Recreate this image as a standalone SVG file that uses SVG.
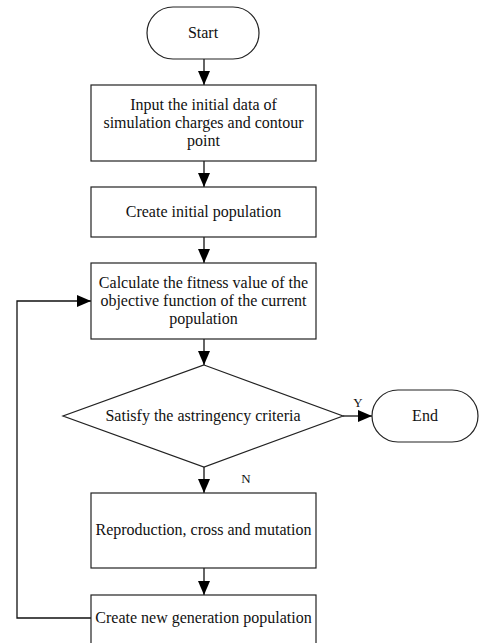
<svg xmlns="http://www.w3.org/2000/svg" width="479" height="643" viewBox="0 0 479 643">
<defs>
<marker id="ah" markerWidth="14" markerHeight="12" refX="14" refY="6" orient="auto" markerUnits="userSpaceOnUse" viewBox="0 0 14 12">
<path d="M0,0 L14,6 L0,12 Z" fill="#000"/>
</marker>
<style>
.n{fill:#fff;stroke:#222;stroke-width:1.2}
.t{font-family:"Liberation Serif","Times New Roman",serif;font-size:16px;fill:#111;text-anchor:middle}
.s{font-family:"Liberation Serif","Times New Roman",serif;font-size:13px;fill:#111;text-anchor:middle}
.c{fill:none;stroke:#111;stroke-width:1.3;marker-end:url(#ah)}
</style>
</defs>
<rect width="479" height="643" fill="#fff"/>
<g id="connectors">
<line class="c" x1="204" y1="59" x2="204" y2="85"/>
<line class="c" x1="204" y1="161" x2="204" y2="187"/>
<line class="c" x1="204" y1="237" x2="204" y2="263"/>
<line class="c" x1="204" y1="339" x2="204" y2="365"/>
<line class="c" x1="343" y1="416" x2="372" y2="416"/>
<line class="c" x1="204" y1="467" x2="204" y2="493"/>
<line class="c" x1="204" y1="568" x2="204" y2="595"/>
<polyline class="c" points="91,618 17,618 17,301 91,301"/>
<text class="s" x="358" y="407">Y</text>
<text class="s" x="246" y="483">N</text>
</g>
<g id="start">
<rect class="n" x="147" y="7" width="112" height="52" rx="26" ry="26"/>
<text class="t" x="203" y="38">Start</text>
</g>
<g id="input">
<rect class="n" x="91" y="85" width="225" height="76"/>
<text class="t" x="203.5" y="110">Input the initial data of</text>
<text class="t" x="203.5" y="128">simulation charges and contour</text>
<text class="t" x="203.5" y="146">point</text>
</g>
<g id="create-initial">
<rect class="n" x="91" y="187" width="225" height="50"/>
<text class="t" x="203.5" y="217">Create initial population</text>
</g>
<g id="calculate">
<rect class="n" x="91" y="263" width="225" height="76"/>
<text class="t" x="203.5" y="288">Calculate the fitness value of the</text>
<text class="t" x="203.5" y="306">objective function of the current</text>
<text class="t" x="203.5" y="324">population</text>
</g>
<g id="decision">
<polygon class="n" points="204,365 343,416 204,467 63,416"/>
<text class="t" x="203" y="421">Satisfy the astringency criteria</text>
</g>
<g id="end">
<rect class="n" x="372" y="390" width="106" height="52" rx="26" ry="26"/>
<text class="t" x="425" y="421">End</text>
</g>
<g id="reproduction">
<rect class="n" x="91" y="493" width="225" height="75"/>
<text class="t" x="203.5" y="535">Reproduction, cross and mutation</text>
</g>
<g id="create-new">
<rect class="n" x="91" y="595" width="225" height="60"/>
<text class="t" x="203.5" y="623">Create new generation population</text>
</g>
</svg>
